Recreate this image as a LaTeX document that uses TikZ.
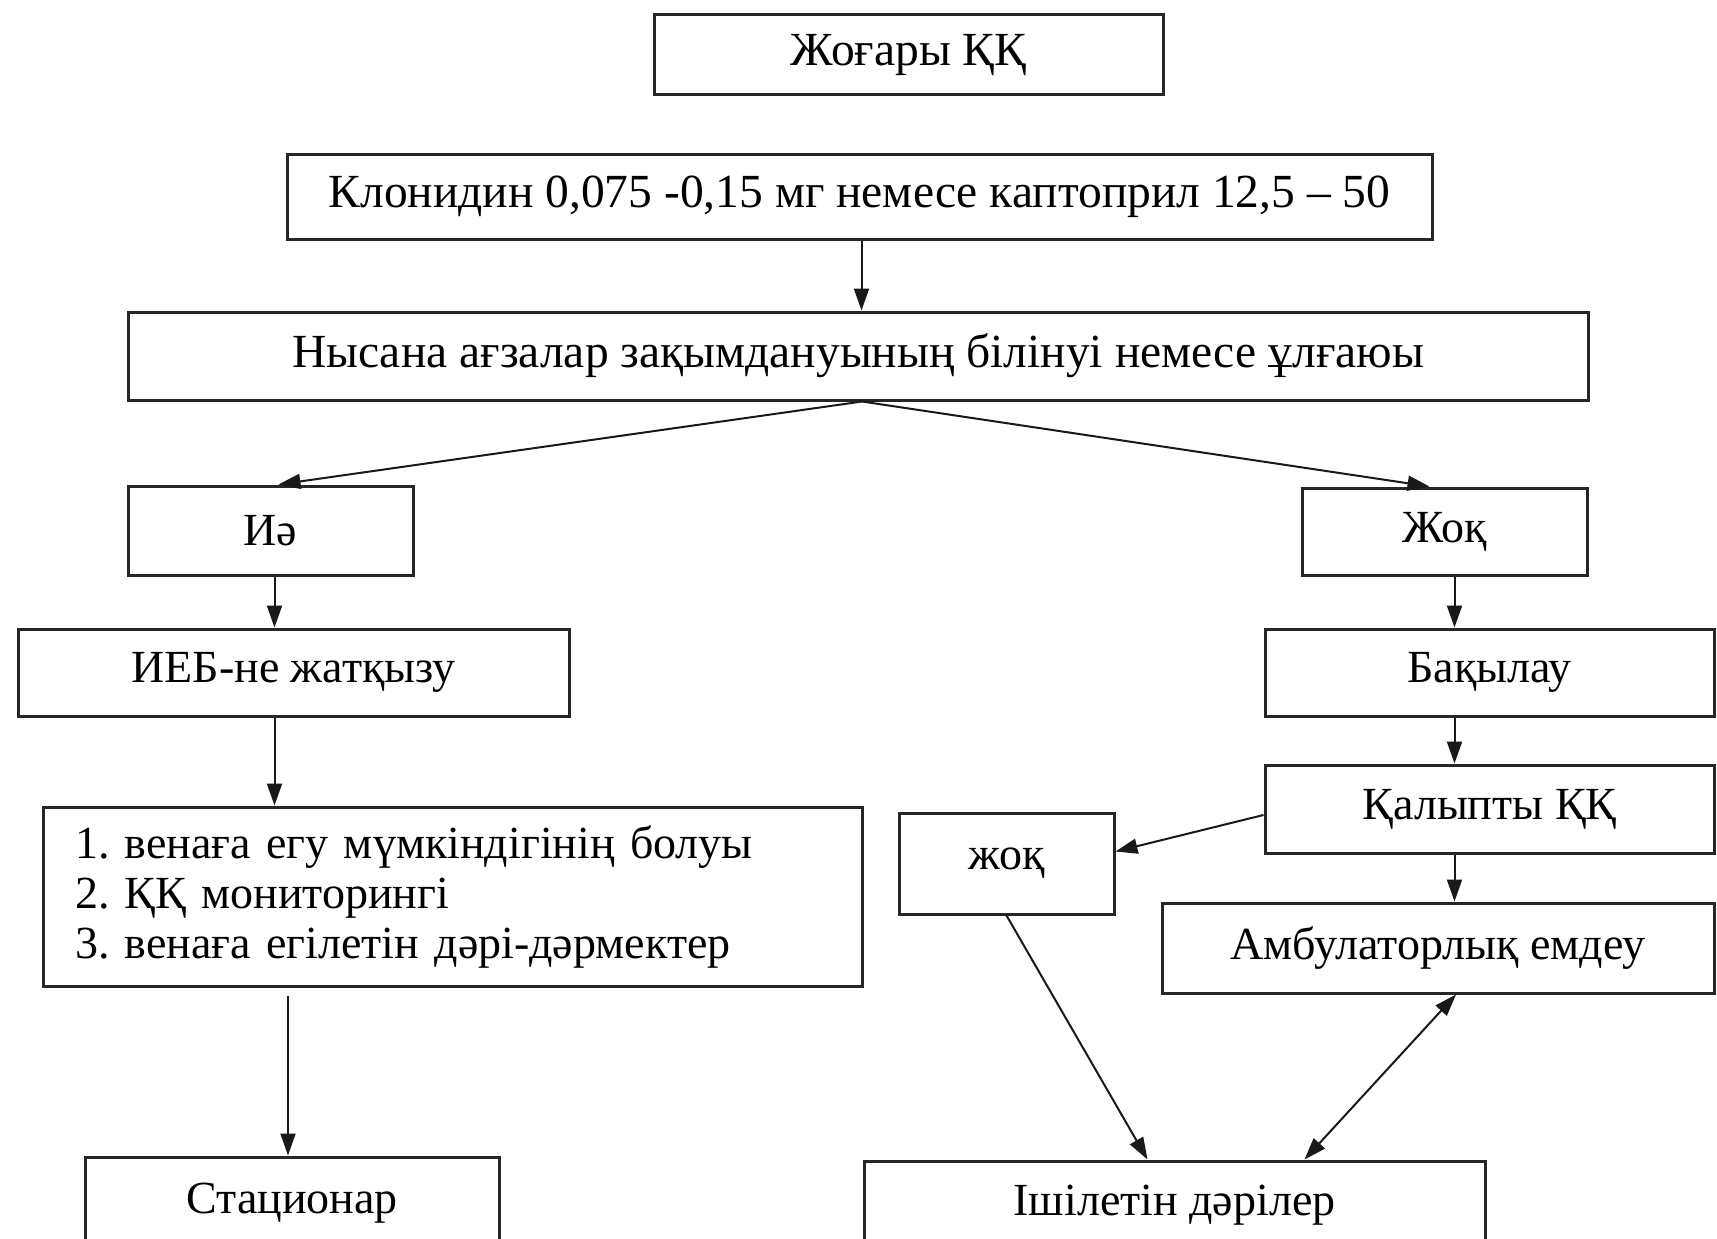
\documentclass[tikz,border=0pt]{standalone}
\usepackage{fontspec}
\setmainfont{Liberation Serif}
\usetikzlibrary{arrows.meta}
\frenchspacing
\tikzset{
  box/.style={draw=black!85, line width=3pt, inner sep=0pt, align=center},
  topfont/.style={font=\fontsize{47.5}{52}\selectfont},
  lowfont/.style={font=\fontsize{46}{50}\selectfont},
  conn/.style={draw=black!90, line width=2pt, -{Triangle[length=22pt,width=15pt]}},
  dconn/.style={draw=black!90, line width=2pt, {Triangle[length=22pt,width=15pt]}-{Triangle[length=22pt,width=15pt]}}
}
\begin{document}
\begin{tikzpicture}[x=1pt,y=-1pt]
\useasboundingbox (0,0) rectangle (1717,1239);
\clip (0,0) rectangle (1717,1239);
\fill[white] (0,0) rectangle (1717,1239);
% nodes
\node[box,topfont,minimum width=509pt,minimum height=80pt] (top) at (908.5,55) {Жоғары ҚҚ};
\node[box,topfont,minimum width=1145pt,minimum height=85pt] (klon) at (859.5,196.5) {Клонидин 0,075 -0,15 мг немесе каптоприл 12,5 – 50};
\node[box,topfont,minimum width=1460pt,minimum height=88pt] (nys) at (858,356) {Нысана ағзалар зақымдануының білінуі немесе ұлғаюы};
\node[box,lowfont,minimum width=285pt,minimum height=89pt] (ia) at (270.5,530.5) {Иә};
\node[box,lowfont,minimum width=285pt,minimum height=87pt] (zhok) at (1444.5,531.5) {Жоқ};
\node[box,lowfont,minimum width=551pt,minimum height=87pt] (ieb) at (293.5,672.5) {ИЕБ-не жатқызу};
\node[box,lowfont,minimum width=449pt,minimum height=87pt] (bak) at (1489.5,672.5) {Бақылау};
\node[box,lowfont,minimum width=819pt,minimum height=179pt,text width=755pt,inner xsep=32pt,align=left] (list) at (452.5,896.5) {1. венаға егу мүмкіндігінің болуы\\2. ҚҚ мониторингі\\3. венаға егілетін дәрі-дәрмектер};
\node[box,lowfont,minimum width=449pt,minimum height=88pt] (kal) at (1489.5,809) {Қалыпты ҚҚ};
\node[box,lowfont,minimum width=215pt,minimum height=101pt] (zhok2) at (1006.5,863.5) {жоқ};
\node[box,lowfont,minimum width=552pt,minimum height=90pt] (amb) at (1438,948) {Амбулаторлық емдеу};
\node[box,lowfont,minimum width=414pt,minimum height=93pt] (stat) at (292,1203.5) {Стационар};
\node[box,lowfont,minimum width=621pt,minimum height=89pt] (ishi) at (1174.5,1205.5) {Ішілетін дәрілер};
% connectors
\draw[conn] ([xshift=2pt]klon.south) -- ([xshift=2pt]klon.south |- nys.north);
\draw[conn] ([xshift=4pt]nys.south) -- ([xshift=8pt]ia.north);
\draw[conn] ([xshift=4pt]nys.south) -- ([xshift=-15pt]zhok.north);
\draw[conn] ([xshift=4pt]ia.south) -- ([xshift=4pt]ia.south |- ieb.north);
\draw[conn] ([xshift=4pt]ia.south |- ieb.south) -- ([xshift=4pt]ia.south |- list.north);
\draw[conn] ([xshift=-4pt,yshift=-8pt]stat.north |- list.south) -- ([xshift=-4pt]stat.north);
\draw[conn] ([xshift=10pt]zhok.south) -- ([xshift=10pt]zhok.south |- bak.north);
\draw[conn] ([xshift=10pt]zhok.south |- bak.south) -- ([xshift=10pt]zhok.south |- kal.north);
\draw[conn] ([xshift=10pt]zhok.south |- kal.south) -- ([xshift=10pt]zhok.south |- amb.north);
\draw[conn] ([yshift=-6pt]kal.west) -- ([yshift=12pt]zhok2.east);
\draw[conn] (zhok2.south) -- ([xshift=-27pt]ishi.north);
\draw[dconn] ([xshift=130pt]ishi.north) -- ([xshift=18pt]amb.south);
\end{tikzpicture}
\end{document}
